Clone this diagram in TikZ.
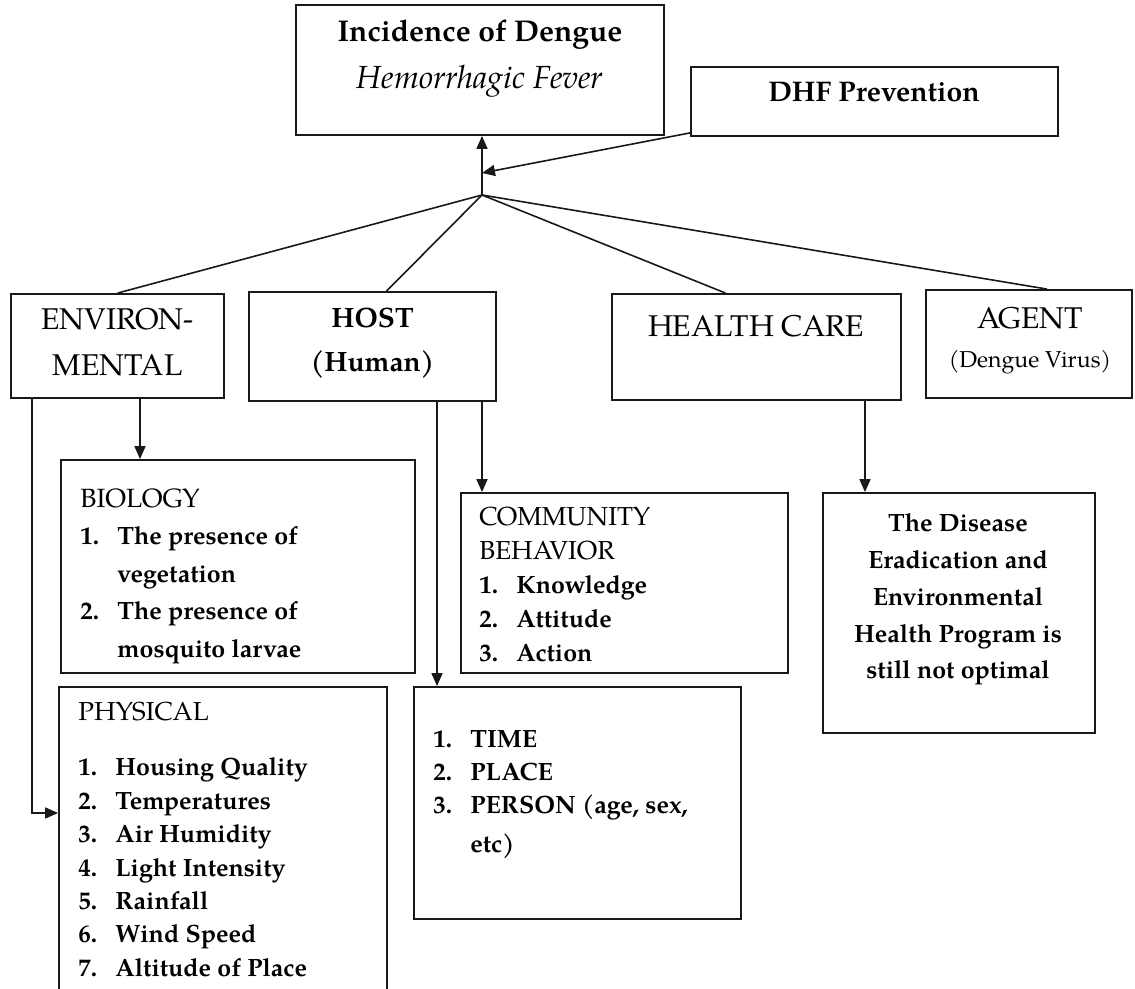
\documentclass[tikz,border=0pt]{standalone}
\usepackage{fontspec}
\setmainfont{TeX Gyre Pagella}
\usepackage{tikz}
\usetikzlibrary{arrows.meta,positioning,fit,calc}
\newcommand{\fz}[2]{\fontsize{#1}{#2}\selectfont}
\newcommand{\itm}[2]{\makebox[18.5pt][l]{#1}#2}
\newcommand{\cont}[1]{\hspace*{18.5pt}#1}
\tikzset{
  box/.style={draw=black!90,line width=.9pt,inner sep=0pt},
  txt/.style={inner sep=0pt},
  head/.style={txt,align=center,font=\fz{15}{23}},
  lst/.style={txt,align=left,anchor=west},
  conn/.style={draw=black!90,line width=.8pt},
  arr/.style={conn,-{Triangle[length=6.5pt,width=5.5pt]}},
}
\begin{document}
\begin{tikzpicture}[x=0.5pt,y=-0.5pt]
  \useasboundingbox (0,0) rectangle (1135,989);
  \clip (0,0) rectangle (1135,989);
  % top row
  \node[box,fit={(296,5) (664,135)}] (inc) {};
  \node[head,font=\fz{15}{23.5}] (inc-t) at (480,58.5)
    {\textbf{Incidence of Dengue}\\{\fz{16}{23.5}\textit{Hemorrhagic Fever}}};
  \node[box,fit={(691,67) (1058,136)}] (dhf) {};
  \node[head,font=\fz{14.2}{23}\bfseries] (dhf-t) at (874,92) {DHF Prevention};
  \coordinate (jn) at (482,195);
  \coordinate (tip) at (482,173);
  % factors
  \node[box,fit={(11,294) (224,398)}] (env) {};
  \node[head] (env-t) at (117.5,342.5) {ENVIRON-\\MENTAL};
  \node[box,fit={(249,292) (496,401)}] (host) {};
  \node[head,font=\fz{14}{22}\bfseries] (host-t) at (372.5,343) {HOST\\(Human)};
  \node[box,fit={(612,294) (901,400)}] (health) {};
  \node[head] (health-t) at (756,326) {HEALTH CARE};
  \node[box,fit={(926,290) (1132,398)}] (agent) {};
  \node[head] (agent-t) at (1030,318) {AGENT};
  \node[head,font=\fz{11.5}{14}] (agent-s) at (1030,362) {(Dengue Virus)};
  % details
  \node[box,fit={(61,460) (415,673)}] (bio) {};
  \node[lst,font=\fz{12.5}{18.75}] (bio-t) at (80,576)
    {{\fz{13.2}{18.75}BIOLOGY}\\
     \textbf{\itm{1.}{The presence of}}\\
     \textbf{\cont{vegetation}}\\
     \textbf{\itm{2.}{The presence of}}\\
     \textbf{\cont{mosquito larvae}}};
  \node[box,fit={(461,493) (788,673)}] (comm) {};
  \node[lst,font=\fz{12.5}{17}] (comm-t) at (479,584.5)
    {{\fz{13}{17}COMMUNITY}\\
     {\fz{13}{17}BEHAVIOR}\\
     \textbf{\itm{1.}{Knowledge}}\\
     \textbf{\itm{2.}{Attitude}}\\
     \textbf{\itm{3.}{Action}}};
  \node[box,fit={(823,493) (1095,733)}] (disease) {};
  \node[txt,align=center,font=\fz{12.5}{18.4}\bfseries] (disease-t) at (958,599.5)
    {The Disease\\Eradication and\\Environmental\\Health Program is\\still not optimal};
  \node[box,fit={(59,687) (387,1000)}] (phys) {};
  \node[lst,font=\fz{12.5}{16.7}] (phys-t) at (78,839.5)
    {{\fz{13}{16.7}PHYSICAL}\\[10.8pt]
     \textbf{\itm{1.}{Housing Quality}}\\
     \textbf{\itm{2.}{Temperatures}}\\
     \textbf{\itm{3.}{Air Humidity}}\\
     \textbf{\itm{4.}{Light Intensity}}\\
     \textbf{\itm{5.}{Rainfall}}\\
     \textbf{\itm{6.}{Wind Speed}}\\
     \textbf{\itm{7.}{Altitude of Place}}};
  \node[box,fit={(414,687) (741,919)}] (time) {};
  \node[lst,font=\fz{12.5}{16.5}\bfseries] (time-t) at (433,794.5)
    {\itm{1.}{TIME}\\
     \itm{2.}{PLACE}\\
     \itm{3.}{PERSON (age, sex,}\\[3pt]
     \cont{etc)}};
  % connectors
  \draw[arr] (jn) -- (inc.south -| jn);
  \draw[arr] ([yshift=2pt]dhf.south west) -- (tip);
  \draw[conn] (jn) -- (env.north);
  \draw[conn] (jn) -- ([xshift=7pt]host.north);
  \draw[conn] (jn) -- ([xshift=-15.5pt]health.north);
  \draw[conn] (jn) -- ([xshift=9pt]agent.north);
  \coordinate (e0) at ([xshift=11pt]env.south west);
  \coordinate (e1) at ([xshift=11.25pt]env.south);
  \coordinate (h1) at ([xshift=32.25pt]host.south);
  \coordinate (c1) at ([xshift=54.25pt]health.south);
  \draw[arr] (e0) |- ([yshift=15.25pt]phys.west);
  \draw[arr] (e1) -- (e1 |- bio.north);
  \draw[arr] (h1) -- (h1 |- time.north);
  \draw[arr] (jn |- host.south) -- (jn |- comm.north);
  \draw[arr] (c1) -- (c1 |- disease.north);
\end{tikzpicture}
\end{document}
